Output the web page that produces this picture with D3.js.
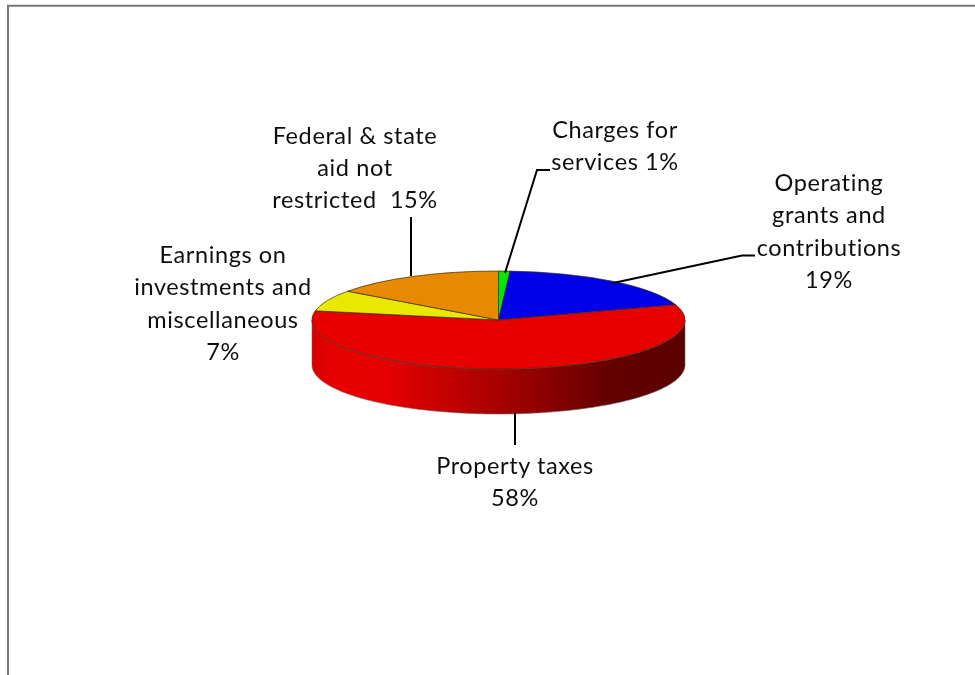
<!DOCTYPE html>
<html>
<head>
<meta charset="utf-8">
<script src="https://cdn.jsdelivr.net/npm/d3@7"></script>
<style>
  html, body { margin: 0; padding: 0; background: #fff; }
  svg { display: block; }
  text { font-family: Lato, "Noto Sans", sans-serif; font-size: 23.5px; fill: #111; text-anchor: middle; letter-spacing: 0.6px; }
</style>
</head>
<body>
<svg id="chart" width="975" height="675"></svg>
<script>
// Revenue shares, clockwise from twelve o'clock
const categories = ["Charges for services", "Operating grants and contributions", "Property taxes",
                    "Earnings on investments and miscellaneous", "Federal & state aid not restricted"];
const shares = [1, 19, 58, 7, 15];
const sliceColors = ["#00e800", "#0000e8", "#e80000", "#e8e800", "#e88a00"];

// Wrapped label lines for each slice
const labelLines = [
  ["Charges for", "services 1%"],
  ["Operating", "grants and", "contributions", "19%"],
  ["Property taxes", "58%"],
  ["Earnings on", "investments and", "miscellaneous", "7%"],
  ["Federal & state", "aid not", "restricted  15%"]
];
const labelAnchors = [[615, 138], [829, 191], [515, 474], [223, 263], [355, 143.5]];
const lineStep = 32.4;

// Leader lines from the slice edge to its label
const leaders = [
  [[505, 273], [537, 170], [550, 170]],
  [[613, 283], [742, 255.5], [755, 255.5]],
  [[515, 413], [515, 445]],
  [],
  [[411, 276], [411, 217]]
];

const cx = 498.5, cy = 320, rx = 186.5, ry = 49, depth = 45;

const svg = d3.select("#chart");
const defs = svg.append("defs");

// Horizontal shading along the visible rim
const rimStops = [[0, "#d40000"], [0.06, "#e80000"], [0.2, "#e40000"], [0.5, "#a80000"], [0.8, "#640000"], [1, "#5c0000"]];
defs.append("linearGradient").attr("id", "rim")
  .selectAll("stop").data(rimStops).join("stop")
  .attr("offset", d => d[0]).attr("stop-color", d => d[1]);

defs.append("filter").attr("id", "soft")
  .attr("x", "-5%").attr("y", "-5%").attr("width", "110%").attr("height", "110%")
  .append("feGaussianBlur").attr("stdDeviation", 0.5);
defs.append("filter").attr("id", "softText")
  .append("feGaussianBlur").attr("stdDeviation", 0.25);

// Outer frame: only the top and left edges are drawn
const frame = svg.append("g").attr("stroke", "#777").attr("stroke-width", 2);
frame.append("line").attr("x1", 7).attr("x2", 975).attr("y1", 5.8).attr("y2", 5.8);
frame.append("line").attr("x1", 8).attr("x2", 8).attr("y1", 5).attr("y2", 675);

const pieGroup = svg.append("g").attr("filter", "url(#soft)");

// Rim of the disc, front half only
const rimAngles = d3.range(90, 270.5, 1).map(d => d * Math.PI / 180);
const rimArea = d3.area()
  .x(a => cx + rx * Math.sin(a))
  .y0(a => cy - ry * Math.cos(a))
  .y1(a => cy - ry * Math.cos(a) + depth);
pieGroup.append("path").attr("d", rimArea(rimAngles))
  .attr("fill", "url(#rim)").attr("stroke", "#6a6a6a").attr("stroke-width", 0.6);

// Top face: a circular pie squashed vertically into an ellipse
const pie = d3.pie().sort(null).value(d => d);
const arc = d3.arc().innerRadius(0).outerRadius(rx);
pieGroup.append("g")
  .attr("transform", `translate(${cx},${cy}) scale(1,${ry / rx})`)
  .selectAll("path").data(pie(shares)).join("path")
  .attr("d", arc)
  .attr("fill", (d, i) => sliceColors[i])
  .attr("stroke", "#3a2a10").attr("stroke-width", 0.7)
  .attr("vector-effect", "non-scaling-stroke");

// Leader lines
const leaderPath = d3.line();
svg.append("g").selectAll("path").data(leaders.filter(d => d.length)).join("path")
  .attr("d", leaderPath).attr("fill", "none").attr("stroke", "#000").attr("stroke-width", 2);

// Labels
svg.append("g").attr("filter", "url(#softText)")
  .selectAll("text").data(categories).join("text")
  .attr("aria-label", d => d)
  .each(function (d, i) {
    d3.select(this).selectAll("tspan").data(labelLines[i]).join("tspan")
      .attr("x", labelAnchors[i][0])
      .attr("y", (t, j) => labelAnchors[i][1] + j * lineStep)
      .attr("xml:space", "preserve")
      .text(t => t);
  });
</script>
</body>
</html>
